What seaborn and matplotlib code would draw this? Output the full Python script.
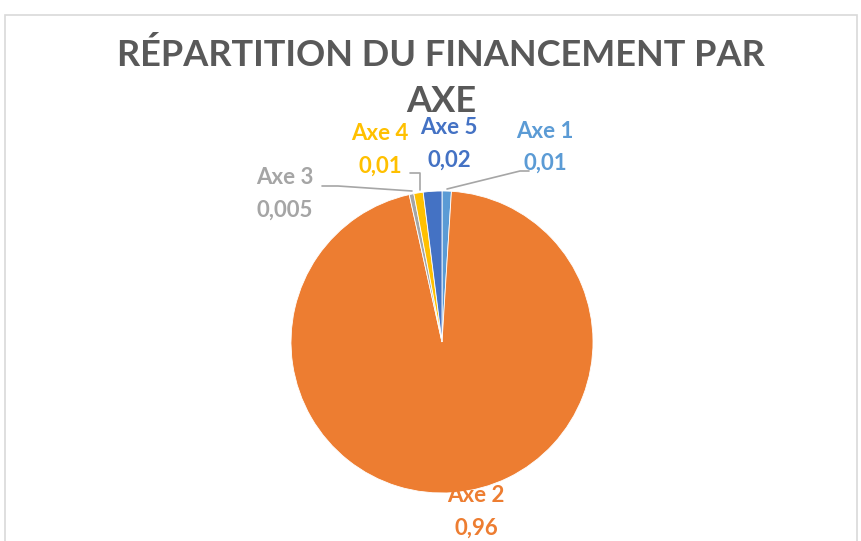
import matplotlib
matplotlib.use("Agg")
import matplotlib.pyplot as plt
import seaborn as sns

# Données
axes_noms = ["Axe 1", "Axe 2", "Axe 3", "Axe 4", "Axe 5"]
parts = [0.01, 0.96, 0.005, 0.01, 0.02]
couleurs = ["#5B9BD5", "#ED7D31", "#A5A5A5", "#FFC000", "#4472C4"]
titre = "RÉPARTITION DU FINANCEMENT PAR\nAXE"

sns.set_theme(style="white")
plt.rcParams["font.family"] = ["Lato", "DejaVu Sans"]

W, H = 862, 541
fig = plt.figure(figsize=(W / 100, H / 100), dpi=100)
ax = fig.add_axes([0, 0, 1, 1])

# cadre du graphique
ax.add_patch(plt.Rectangle((5, -5), W - 10, H - 10, fill=False,
                           edgecolor="#D9D9D9", linewidth=1.2))

cx, cy, r = 442, H - 342, 151
ax.pie(parts, colors=couleurs, startangle=90, counterclock=False,
       center=(cx, cy), radius=r, frame=True,
       wedgeprops=dict(linewidth=0.6, edgecolor="white"))
ax.set_xlim(0, W)
ax.set_ylim(0, H)
ax.set_aspect("equal")
ax.axis("off")

# étiquettes (position en pixels du haut de l'image)
pos_etiquettes = [(545, 131), (476, 496), (285, 178), (380, 134), (449, 128)]
for nom, val, col, (px, py) in zip(axes_noms, parts, couleurs, pos_etiquettes):
    txt = f"{val:g}".replace(".", ",")
    ax.text(px, H - py, nom, color=col, fontsize=16, fontweight="bold",
            ha="center", va="center")
    ax.text(px, H - py - 32, txt, color=col, fontsize=16, fontweight="bold",
            ha="center", va="center")

# lignes de rappel
lignes = [
    [(447, 189), (520, 171), (529, 171)],
    [(322, 186), (338, 186), (412, 191)],
    [(410, 173), (420, 173), (420, 190)],
]
for pts in lignes:
    xs = [p[0] for p in pts]
    ys = [H - p[1] for p in pts]
    ax.plot(xs, ys, color="#A6A6A6", linewidth=1.2)

fig.text(441 / W, 1 - 78 / H, titre, ha="center", va="center",
         fontsize=26, fontweight="bold", color="#595959", linespacing=1.45)

fig.savefig("out.png", dpi=100)
